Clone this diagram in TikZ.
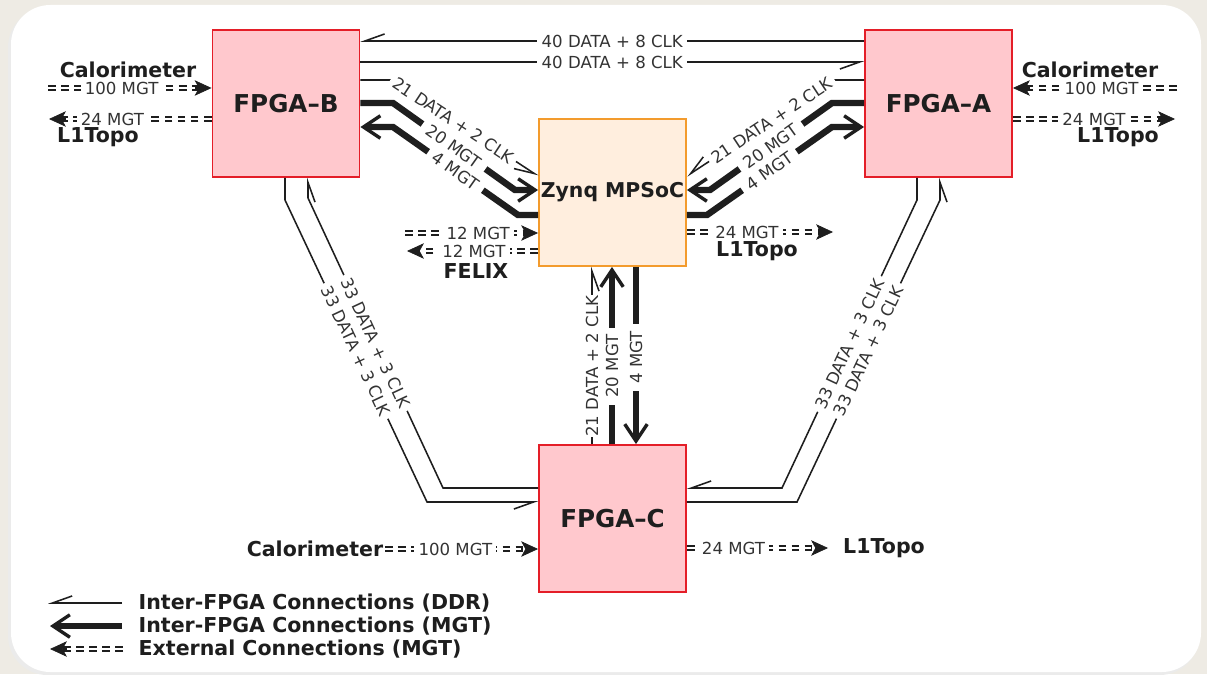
\documentclass[tikz,border=0pt]{standalone}
\usepackage{fontspec}
\setmainfont{DejaVu Sans}
\usetikzlibrary{arrows.meta}
\definecolor{fpgafill}{RGB}{255,200,205}
\definecolor{fpgaline}{RGB}{228,30,40}
\definecolor{socfill}{RGB}{255,238,222}
\definecolor{socline}{RGB}{243,155,45}
\definecolor{pagebg}{RGB}{238,235,228}
\definecolor{ink}{RGB}{30,30,30}

\begin{document}
\begin{tikzpicture}[
  x=0.025cm, y=-0.025cm,
  fpga/.style={draw=fpgaline,fill=fpgafill,line width=1.2pt,
               minimum size=3.68cm,inner sep=0pt,text=ink,
               font=\fontsize{17.5}{20}\selectfont\bfseries},
  soc/.style={fpga,draw=socline,fill=socfill,
              font=\fontsize{14.5}{17}\selectfont\bfseries},
  ddr/.style={draw=ink,line width=1.1pt,
              -{Straight Barb[harpoon,swap,length=14pt,width=10pt]}},
  mgt/.style={draw=ink,line width=4.6pt,
              -{Straight Barb[length=12pt,width=16pt,line width=2.4pt]}},
  ext/.style={draw=ink,line width=4.2pt,dash pattern=on 5.5pt off 3.8pt,
              -{Stealth[length=12pt,width=11pt,inset=3pt,line width=0.5pt]},
              postaction={draw=white,line width=1.4pt,solid,arrows=-,shorten >=12pt}},
  lbl/.style={font=\fontsize{11.8}{13}\selectfont,text=black!80,fill=white,
              inner xsep=3pt,inner ysep=0.5pt},
  tag/.style={font=\fontsize{14.6}{17}\selectfont\bfseries,text=ink,inner sep=1pt},
]
  % card
  \fill[pagebg] (0,0) rectangle (1207,674);
  \fill[black!8,rounded corners=28pt] (8,8) rectangle (1199,675);
  \fill[white,rounded corners=28pt] (11,5) rectangle (1201,672);
  \useasboundingbox (0,0) rectangle (1207,674);

  % chips
  \node[fpga] (fpgab) at (286,103.5)   {FPGA–B};
  \node[fpga] (fpgaa) at (938.5,103.5) {FPGA–A};
  \node[soc]  (zynq)  at (612.5,192.5) {Zynq MPSoC};
  \node[fpga] (fpgac) at (612.5,518.5) {FPGA–C};

  % outside world
  \node[tag] (calb)  at (128,70)   {Calorimeter};
  \node[tag] (topob) at (98,137)   {L1Topo};
  \node[tag] (cala)  at (1090,70)  {Calorimeter};
  \node[tag] (topoa) at (1118,137) {L1Topo};
  \node[tag] (felix) at (476,271)  {FELIX};
  \node[tag] (topoz) at (757,251)  {L1Topo};
  \node[tag] (calc)  at (315,549)  {Calorimeter};
  \node[tag] (topoc) at (884,548)  {L1Topo};

  % B <-> A
  \draw[ddr] (fpgaa.west |- 0,41) -- node[lbl] {40 DATA + 8 CLK} (fpgab.east |- 0,41);
  \draw[ddr] (fpgab.east |- 0,62) -- node[lbl] {40 DATA + 8 CLK} (fpgaa.west |- 0,62);

  % B <-> Zynq
  \draw[ddr] (fpgab.east |- 0,80) -- (392,80) --
        node[lbl,sloped,pos=0.42] {21 DATA + 2 CLK} (zynq.west |- 0,176);
  \draw[mgt] (fpgab.east |- 0,103) -- (393,103) --
        node[lbl,sloped,inner xsep=5pt] {20 MGT} (515,190) -- (zynq.west |- 0,190);
  \draw[mgt] (zynq.west |- 0,215) -- (518,215) --
        node[lbl,sloped,inner xsep=5pt] {4 MGT} (393,127) -- (fpgab.east |- 0,127);

  % A <-> Zynq
  \draw[ddr] (fpgaa.west |- 0,80) -- (833,80) --
        node[lbl,sloped,pos=0.42] {21 DATA + 2 CLK} (zynq.east |- 0,176);
  \draw[mgt] (fpgaa.west |- 0,103) -- (832,103) --
        node[lbl,sloped,inner xsep=5pt] {20 MGT} (710,190) -- (zynq.east |- 0,190);
  \draw[mgt] (zynq.east |- 0,215) -- (707,215) --
        node[lbl,sloped,inner xsep=5pt] {4 MGT} (832,127) -- (fpgaa.west |- 0,127);

  % C <-> Zynq
  \draw[ddr] (592,0 |- fpgac.north) --
        node[lbl,rotate=90,pos=0.44,inner xsep=0.5pt] {21 DATA + 2 CLK} (592,0 |- zynq.south);
  \draw[mgt] (612,0 |- fpgac.north) --
        node[lbl,rotate=90,pos=0.44,inner xsep=5pt] {20 MGT} (612,0 |- zynq.south);
  \draw[mgt] (636,0 |- zynq.south) --
        node[lbl,rotate=90,pos=0.51,inner xsep=5pt] {4 MGT} (636,0 |- fpgac.north);

  % B <-> C
  \draw[ddr] (285,0 |- fpgab.south) -- (285,200) --
        node[lbl,sloped] {33 DATA + 3 CLK} (427,502) -- (fpgac.west |- 0,502);
  \draw[ddr] (fpgac.west |- 0,488) -- (443,488) --
        node[lbl,sloped] {33 DATA + 3 CLK} (308,198) -- (308,0 |- fpgab.south);

  % A <-> C
  \draw[ddr] (917,0 |- fpgaa.south) -- (917,200) --
        node[lbl,sloped] {33 DATA + 3 CLK} (782,488) -- (fpgac.east |- 0,488);
  \draw[ddr] (fpgac.east |- 0,502) -- (797,502) --
        node[lbl,sloped] {33 DATA + 3 CLK} (940,200) -- (940,0 |- fpgaa.south);

  % external MGT links
  \coordinate (calbin)   at (48,88);
  \coordinate (topobout) at (49,119);
  \coordinate (calain)   at (1177,88);
  \coordinate (topoaout) at (1175,119);
  \coordinate (felixin)  at (405,233);
  \coordinate (felixout) at (407,251);
  \coordinate (topozout) at (833,232);
  \coordinate (topocout) at (828,548);
  \draw[ext] (calbin) -- node[lbl,pos=0.45] {100 MGT} (fpgab.west |- calbin);
  \draw[ext] (fpgab.west |- topobout) -- node[lbl,pos=0.61] {24 MGT} (topobout);
  \draw[ext] (calain) -- node[lbl,pos=0.46] {100 MGT} (fpgaa.east |- calain);
  \draw[ext] (fpgaa.east |- topoaout) -- node[lbl,pos=0.5] {24 MGT} (topoaout);
  \draw[ext] (felixin) -- node[lbl,pos=0.55] {12 MGT} (zynq.west |- felixin);
  \draw[ext] (zynq.west |- felixout) -- node[lbl,pos=0.49] {12 MGT} (felixout);
  \draw[ext] (zynq.east |- topozout) -- node[lbl,pos=0.41] {24 MGT} (topozout);
  \draw[ext] (calc.east) -- node[lbl,pos=0.46] {100 MGT} (fpgac.west |- calc.east);
  \draw[ext] (fpgac.east |- topocout) -- node[lbl,pos=0.33] {24 MGT} (topocout);

  % legend
  \node[tag,anchor=west] (keyddrtxt) at (137,603) {Inter-FPGA Connections (DDR)};
  \node[tag,anchor=west] (keymgttxt) at (137,626) {Inter-FPGA Connections (MGT)};
  \node[tag,anchor=west] (keyexttxt) at (137,649) {External Connections (MGT)};
  \coordinate (keyddr) at (48,603);
  \coordinate (keymgt) at (50,626);
  \coordinate (keyext) at (50,649);
  \draw[ddr] (keyddrtxt.west -| 122,0) -- (keyddr);
  \draw[mgt] (keymgttxt.west -| 122,0) -- (keymgt);
  \draw[ext] (keyexttxt.west -| 123,0) -- (keyext);
\end{tikzpicture}
\end{document}
